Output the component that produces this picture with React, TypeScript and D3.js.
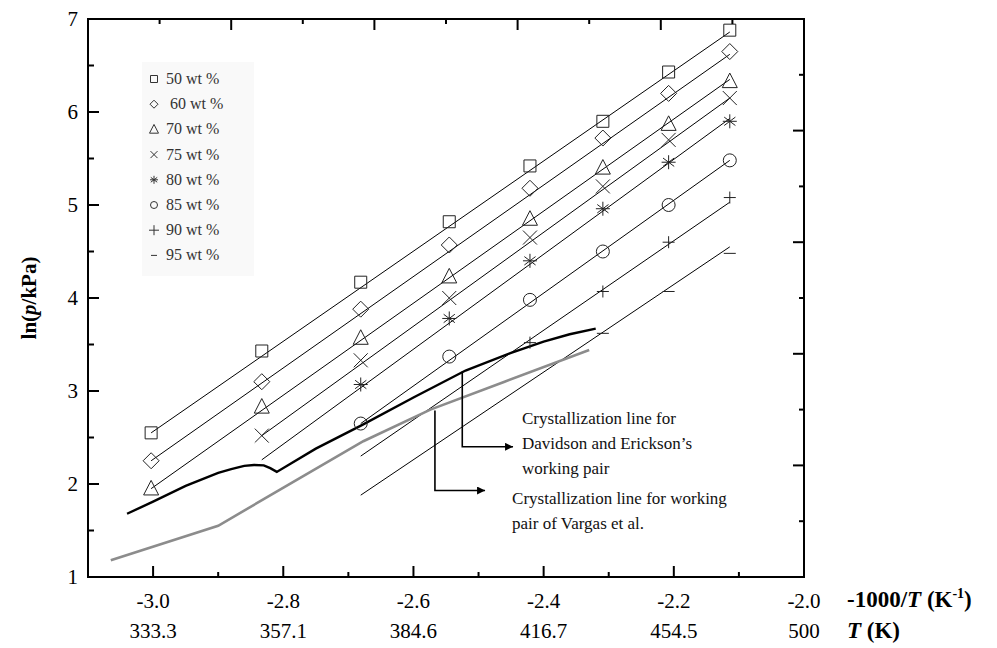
import * as d3 from "d3"
import { useEffect, useRef } from "react"

// -1000/T for T = 333, 353, ... 473 K
const xVals = [-3.003, -2.833, -2.681, -2.545, -2.421, -2.309, -2.208, -2.114]
const seriesNames = ["50 wt %", " 60 wt %", "70 wt %", "75 wt %", "80 wt %", "85 wt %", "90 wt %", "95 wt %"]
const symbols = ["square", "diamond", "triangle", "cross", "asterisk", "circle", "plus", "minus"]

const wt50 = [2.55, 3.43, 4.17, 4.82, 5.42, 5.9, 6.43, 6.88]
const wt60 = [2.25, 3.1, 3.88, 4.57, 5.18, 5.72, 6.2, 6.65]
const wt70 = [1.95, 2.83, 3.57, 4.23, 4.85, 5.4, 5.87, 6.33]
const wt75 = [null, 2.52, 3.33, 4.0, 4.65, 5.2, 5.7, 6.15]
const wt80 = [null, null, 3.07, 3.78, 4.4, 4.96, 5.46, 5.9]
const wt85 = [null, null, 2.65, 3.37, 3.98, 4.5, 5.0, 5.48]
const wt90 = [null, null, null, null, 3.52, 4.07, 4.6, 5.08]
const wt95 = [null, null, null, null, null, 3.62, 4.07, 4.48]

// fitted straight lines: start/end
const fitX0 = [-3.003, -3.003, -3.003, -2.833, -2.833, -2.681, -2.681, -2.681]
const fitY0 = [2.55, 2.25, 1.95, 2.52, 2.26, 2.65, 2.3, 1.88]
const fitX1 = [-2.114, -2.114, -2.114, -2.114, -2.114, -2.114, -2.114, -2.114]
const fitY1 = [6.86, 6.62, 6.35, 6.15, 5.93, 5.48, 5.03, 4.55]

// crystallization lines
const daviX = [-3.04, -3.0, -2.95, -2.9, -2.88, -2.86, -2.845, -2.83, -2.82, -2.81, -2.75, -2.68, -2.6, -2.52, -2.45, -2.4, -2.36, -2.32]
const daviY = [1.68, 1.81, 1.98, 2.12, 2.16, 2.195, 2.205, 2.2, 2.17, 2.13, 2.38, 2.63, 2.93, 3.22, 3.41, 3.53, 3.61, 3.67]
const vargX = [-3.065, -2.9, -2.805, -2.677, -2.574, -2.46, -2.33]
const vargY = [1.18, 1.55, 1.94, 2.46, 2.8, 3.1, 3.44]

const xTicks = [-3.0, -2.8, -2.6, -2.4, -2.2, -2.0]
const tLabels = ["333.3", "357.1", "384.6", "416.7", "454.5", "500"]
const yTicks = [1, 2, 3, 4, 5, 6, 7]

function symbolPath(type: string, s: number) {
    const h = s / 2
    switch (type) {
        case "square": return `M${-h},${-h}h${s}v${s}h${-s}Z`
        case "diamond": return `M0,${-h}L${h},0L0,${h}L${-h},0Z`
        case "triangle": return `M0,${-s * 0.55}L${h},${s * 0.42}L${-h},${s * 0.42}Z`
        case "cross": return `M${-h},${-h}L${h},${h}M${h},${-h}L${-h},${h}`
        case "asterisk": return `M0,${-h}V${h}M${-h * 0.8},${-h * 0.6}L${h * 0.8},${h * 0.6}M${h * 0.8},${-h * 0.6}L${-h * 0.8},${h * 0.6}M${-h},0H${h}`
        case "circle": return `M${h},0A${h},${h} 0 1 1 ${-h},0A${h},${h} 0 1 1 ${h},0Z`
        case "plus": return `M${-h},0H${h}M0,${-h}V${h}`
        default: return `M${-h},0H${h}`
    }
}

export default function App() {
    const ref = useRef<SVGSVGElement | null>(null)

    useEffect(() => {
        const width = 997
        const height = 648
        const svg = d3.select(ref.current)
        svg.selectAll("*").remove()
        svg.attr("width", width).attr("height", height)

        const x = d3.scaleLinear().domain([-3.1, -2.0]).range([88, 804])
        const y = d3.scaleLinear().domain([1, 7]).range([577, 19])
        const [x0, x1] = x.range()
        const [yb, yt] = y.range()

        const allSeries = [wt50, wt60, wt70, wt75, wt80, wt85, wt90, wt95]

        // legend background
        svg.append("rect")
            .attr("x", 142).attr("y", 62).attr("width", 112).attr("height", 214)
            .attr("fill", "#f9f9f9")

        const legend = svg.append("g").style("font-size", "16px").attr("fill", "#333")
        const legendSizes = [7, 8, 9, 7, 8, 7, 10, 6]
        seriesNames.forEach((name, i) => {
            const ly = 79 + i * 25.2
            legend.append("path")
                .attr("transform", `translate(154,${ly})`)
                .attr("d", symbolPath(symbols[i], legendSizes[i]))
                .attr("fill", "none").attr("stroke", "#333").attr("stroke-width", 1)
            legend.append("text")
                .attr("x", 166).attr("y", ly + 5)
                .style("white-space", "pre")
                .text(name)
        })

        // fitted lines
        svg.append("g")
            .selectAll("line")
            .data(d3.range(fitX0.length))
            .join("line")
            .attr("x1", (i) => x(fitX0[i])).attr("y1", (i) => y(fitY0[i]))
            .attr("x2", (i) => x(fitX1[i])).attr("y2", (i) => y(fitY1[i]))
            .attr("stroke", "#000").attr("stroke-width", 1)

        // crystallization lines
        const line = d3.line<number>().curve(d3.curveLinear)
        svg.append("path")
            .attr("d", line.x((d) => x(d)).y((_, i) => y(vargY[i]))(vargX))
            .attr("fill", "none").attr("stroke", "#8c8c8c").attr("stroke-width", 2.6)
        svg.append("path")
            .attr("d", line.x((d) => x(d)).y((_, i) => y(daviY[i]))(daviX))
            .attr("fill", "none").attr("stroke", "#000").attr("stroke-width", 2.4)

        // markers
        const markerSizes = [12, 16, 15, 14, 14, 13, 12, 12]
        allSeries.forEach((vals, si) => {
            svg.append("g")
                .selectAll("path")
                .data(xVals.map((xv, i) => ({ xv, yv: vals[i] })).filter((d) => d.yv !== null))
                .join("path")
                .attr("transform", (d) => `translate(${x(d.xv)},${y(d.yv as number)})`)
                .attr("d", symbolPath(symbols[si], markerSizes[si]))
                .attr("fill", "none").attr("stroke", "#222").attr("stroke-width", 1)
        })

        // annotation arrows
        svg.append("defs").append("marker")
            .attr("id", "arrow").attr("viewBox", "0 0 10 10")
            .attr("refX", 10).attr("refY", 5)
            .attr("markerWidth", 10).attr("markerHeight", 8)
            .attr("markerUnits", "userSpaceOnUse")
            .attr("orient", "auto")
            .append("path").attr("d", "M0,0L10,5L0,10Z").attr("fill", "#000")

        const arrows = [
            { pts: [[-2.525, 3.21], [-2.525, 2.4], [-2.447, 2.4]] },
            { pts: [[-2.567, 2.79], [-2.567, 1.93], [-2.49, 1.93]] },
        ]
        arrows.forEach((a) => {
            svg.append("path")
                .attr("d", d3.line()(a.pts.map(([px, py]) => [x(px), y(py)])))
                .attr("fill", "none").attr("stroke", "#000").attr("stroke-width", 1.6)
                .attr("marker-end", "url(#arrow)")
        })

        const notes = svg.append("g").style("font-size", "17px").attr("fill", "#111")
        const note1 = ["Crystallization line for", "Davidson and Erickson\u2019s", "working pair"]
        note1.forEach((t, i) => {
            notes.append("text").attr("x", x(-2.447) + 9).attr("y", y(2.4) - 23 + i * 25).text(t)
        })
        const note2 = ["Crystallization line for working", "pair of Vargas et al."]
        note2.forEach((t, i) => {
            notes.append("text").attr("x", x(-2.49) + 27).attr("y", y(1.93) + 13 + i * 25).text(t)
        })

        // frame
        const frame = svg.append("g").attr("stroke", "#000").attr("stroke-width", 2)
        frame.append("rect")
            .attr("x", x0).attr("y", yt).attr("width", x1 - x0).attr("height", yb - yt)
            .attr("fill", "none")

        // bottom ticks (inward)
        const bottomMinor = d3.range(-2.9, -2.05, 0.2)
        xTicks.slice(0, -1).forEach((t) => {
            frame.append("line").attr("x1", x(t)).attr("x2", x(t)).attr("y1", yb).attr("y2", yb - 11)
        })
        bottomMinor.forEach((t) => {
            frame.append("line").attr("x1", x(t)).attr("x2", x(t)).attr("y1", yb).attr("y2", yb - 5)
        })
        // left ticks
        yTicks.slice(1, -1).forEach((t) => {
            frame.append("line").attr("x1", x0).attr("x2", x0 + 11).attr("y1", y(t)).attr("y2", y(t))
        })
        d3.range(1.5, 7, 1).forEach((t) => {
            frame.append("line").attr("x1", x0).attr("x2", x0 + 6).attr("y1", y(t)).attr("y2", y(t))
        })
        // top and right: 10 equal divisions
        d3.range(1, 10).forEach((k) => {
            const tx = x0 + ((x1 - x0) * k) / 10
            const ty = yt + ((yb - yt) * k) / 10
            const long = k % 2 === 0
            frame.append("line").attr("x1", tx).attr("x2", tx).attr("y1", yt).attr("y2", yt + (long ? 11 : 5))
            frame.append("line").attr("x1", x1).attr("x2", x1 - (long ? 11 : 5)).attr("y1", ty).attr("y2", ty)
        })

        // tick labels
        const labels = svg.append("g").style("font-size", "21px").attr("fill", "#000")
        yTicks.forEach((t) => {
            labels.append("text").attr("x", x0 - 10).attr("y", y(t) + 7).attr("text-anchor", "end").text(t)
        })
        xTicks.forEach((t, i) => {
            labels.append("text").attr("x", x(t)).attr("y", yb + 31).attr("text-anchor", "middle").text(t.toFixed(1))
            labels.append("text").attr("x", x(t)).attr("y", yb + 61).attr("text-anchor", "middle").text(tLabels[i])
        })

        // axis titles
        const xt = svg.append("text").attr("x", 847).attr("y", yb + 30)
            .style("font-size", "23px").attr("font-weight", "bold")
        xt.append("tspan").text("-1000/")
        xt.append("tspan").attr("font-style", "italic").text("T")
        xt.append("tspan").text(" (K")
        xt.append("tspan").style("font-size", "14px").attr("dy", -9).text("-1")
        xt.append("tspan").attr("dy", 9).text(")")

        const tt = svg.append("text").attr("x", 847).attr("y", yb + 61)
            .style("font-size", "23px").attr("font-weight", "bold")
        tt.append("tspan").attr("font-style", "italic").text("T")
        tt.append("tspan").text(" (K)")

        const yl = svg.append("text")
            .attr("transform", `translate(36,${y(4)}) rotate(-90)`)
            .attr("text-anchor", "middle")
            .style("font-size", "21px").attr("font-weight", "bold")
        yl.append("tspan").text("ln(")
        yl.append("tspan").attr("font-style", "italic").text("p")
        yl.append("tspan").text("/kPa)")
    }, [])

    return (
        <svg
            ref={ref}
            style={{ position: "absolute", left: 0, top: 0, background: "#fff", fontFamily: '"Liberation Serif", "Times New Roman", Times, serif' }}
        />
    )
}
